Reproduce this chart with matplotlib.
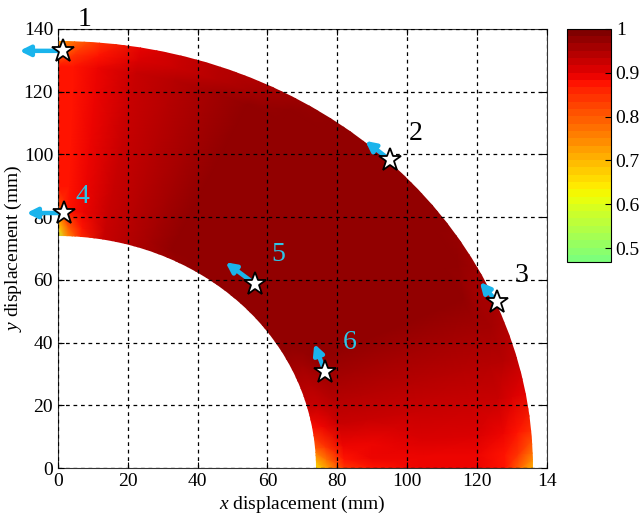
import matplotlib
matplotlib.use('Agg')
import matplotlib.pyplot as plt
import numpy as np
from matplotlib.colors import ListedColormap
from matplotlib.patches import Wedge

plt.rcParams['font.family'] = 'Liberation Serif'
plt.rcParams['mathtext.fontset'] = 'custom'
plt.rcParams['mathtext.it'] = 'Liberation Serif:italic'
plt.rcParams['mathtext.rm'] = 'Liberation Serif'

# ring geometry (mm)
r_inner, r_outer = 74, 136

# polar sample grid (degrees from x axis, radius in mm)
angles = [0, 2, 5, 10, 15, 20, 25, 30, 35, 40, 45, 50, 55, 60, 65, 70, 75, 80, 85, 88, 90]
radii = [72, 77, 82, 90, 105, 120, 128, 132, 139]
# normalised value at each (angle, radius) sample
values = [
    [0.62, 0.72, 0.85, 0.88, 0.89, 0.89, 0.87, 0.80, 0.65],
    [0.68, 0.78, 0.87, 0.89, 0.90, 0.90, 0.88, 0.84, 0.72],
    [0.78, 0.84, 0.89, 0.90, 0.91, 0.91, 0.90, 0.88, 0.82],
    [0.88, 0.90, 0.92, 0.93, 0.93, 0.93, 0.92, 0.91, 0.89],
    [0.92, 0.93, 0.94, 0.95, 0.95, 0.95, 0.94, 0.94, 0.93],
    [0.95, 0.95, 0.96, 0.96, 0.96, 0.96, 0.96, 0.96, 0.95],
    [0.96, 0.96, 0.97, 0.97, 0.97, 0.97, 0.97, 0.96, 0.96],
    [0.97, 0.97, 0.97, 0.97, 0.97, 0.97, 0.97, 0.97, 0.96],
    [0.97, 0.97, 0.98, 0.98, 0.98, 0.98, 0.97, 0.97, 0.97],
    [0.98, 0.98, 0.98, 0.98, 0.98, 0.98, 0.98, 0.98, 0.97],
    [0.98, 0.98, 0.98, 0.98, 0.98, 0.98, 0.98, 0.98, 0.97],
    [0.98, 0.98, 0.98, 0.98, 0.98, 0.98, 0.98, 0.98, 0.97],
    [0.97, 0.98, 0.98, 0.98, 0.98, 0.98, 0.98, 0.97, 0.97],
    [0.97, 0.97, 0.97, 0.97, 0.97, 0.97, 0.97, 0.97, 0.96],
    [0.96, 0.97, 0.97, 0.97, 0.97, 0.97, 0.97, 0.96, 0.95],
    [0.96, 0.96, 0.96, 0.96, 0.96, 0.96, 0.96, 0.95, 0.94],
    [0.94, 0.95, 0.95, 0.95, 0.95, 0.95, 0.94, 0.93, 0.92],
    [0.92, 0.93, 0.93, 0.93, 0.93, 0.93, 0.92, 0.91, 0.89],
    [0.85, 0.88, 0.90, 0.90, 0.90, 0.90, 0.90, 0.88, 0.82],
    [0.72, 0.80, 0.87, 0.88, 0.88, 0.88, 0.88, 0.85, 0.75],
    [0.55, 0.68, 0.80, 0.87, 0.88, 0.88, 0.87, 0.80, 0.68],
]

# marked points, their arrow tips and labels
star_x = [1.5, 95.1, 125.8, 1.7, 56.4, 76.5]
star_y = [133.0, 98.2, 52.9, 81.3, 58.7, 30.6]
tip_x = [-11.0, 88.0, 120.8, -9.0, 48.0, 73.4]
tip_y = [133.0, 104.3, 59.3, 81.3, 65.6, 39.6]
labels = ['1', '2', '3', '4', '5', '6']
label_x = [7.5, 102.5, 132.8, 7.0, 63.0, 83.5]
label_y = [143.0, 106.5, 61.5, 86.5, 68.0, 40.0]
label_colors = ['black', 'black', 'black', '#2ec4e6', '#2ec4e6', '#2ec4e6']

xticks = [0, 20, 40, 60, 80, 100, 120, 140]
xticklabels = ['0', '20', '40', '60', '80', '100', '120', '14']
yticks = [0, 20, 40, 60, 80, 100, 120, 140]
cticks = [0.5, 0.6, 0.7, 0.8, 0.9, 1]

cmap = ListedColormap(plt.cm.jet(np.linspace(0.5, 1, 32)))
vmin, vmax = 0.468, 1.0

fig = plt.figure(figsize=(6.42, 5.16), dpi=100)
ax = fig.add_axes([0.0903, 0.093, 0.7615, 0.851])

th = np.deg2rad(np.array(angles))[:, None]
r = np.array(radii)[None, :]
X = r * np.cos(th)
Y = r * np.sin(th)
mesh = ax.pcolormesh(X, Y, np.array(values), shading='gouraud', cmap=cmap,
                     vmin=vmin, vmax=vmax, zorder=1)
# trim the mesh to the exact quarter ring
ring = Wedge((0, 0), r_outer, 0, 90, width=r_outer - r_inner,
             transform=ax.transData, facecolor='none', edgecolor='none')
ax.add_patch(ring)
mesh.set_clip_path(ring)

ax.set_xlim(0, 140)
ax.set_ylim(0, 140)
ax.set_xticks(xticks)
ax.set_xticklabels(xticklabels)
ax.set_yticks(yticks)
ax.grid(True, color='black', linestyle=(0, (3, 3)), linewidth=0.9, zorder=2)
ax.set_axisbelow(False)
ax.tick_params(direction='in', top=True, right=True, labelsize=14, length=4)
for s in ax.spines.values():
    s.set_linewidth(0.8)
    s.set_color('#333333')

cyan = '#1ab4ec'
for sx, sy, tx, ty in zip(star_x, star_y, tip_x, tip_y):
    ax.annotate('', xy=(tx, ty), xytext=(sx, sy), annotation_clip=False,
                arrowprops=dict(arrowstyle='-|>', color=cyan, lw=3.2,
                                mutation_scale=15, shrinkA=0, shrinkB=0),
                zorder=4)
ax.plot(star_x, star_y, linestyle='none', marker='*', markersize=17,
        markerfacecolor='white', markeredgecolor='black', markeredgewidth=1.3,
        clip_on=False, zorder=5)
for lx, ly, t, c in zip(label_x, label_y, labels, label_colors):
    ax.text(lx, ly, t, fontsize=20, color=c, ha='center', va='center',
            clip_on=False, zorder=6)

ax.set_xlabel(r'$\mathit{x}$ displacement (mm)', fontsize=14, labelpad=3)
ax.set_ylabel(r'$\mathit{y}$ displacement (mm)', fontsize=14, labelpad=0)

cax = fig.add_axes([0.883, 0.492, 0.0685, 0.452])
cb = fig.colorbar(mesh, cax=cax, ticks=cticks)
cb.ax.set_yticklabels(['0.5', '0.6', '0.7', '0.8', '0.9', '1'])
cb.ax.tick_params(direction='in', labelsize=14, length=4)
cb.outline.set_linewidth(0.8)

fig.savefig('out.png', dpi=100)
